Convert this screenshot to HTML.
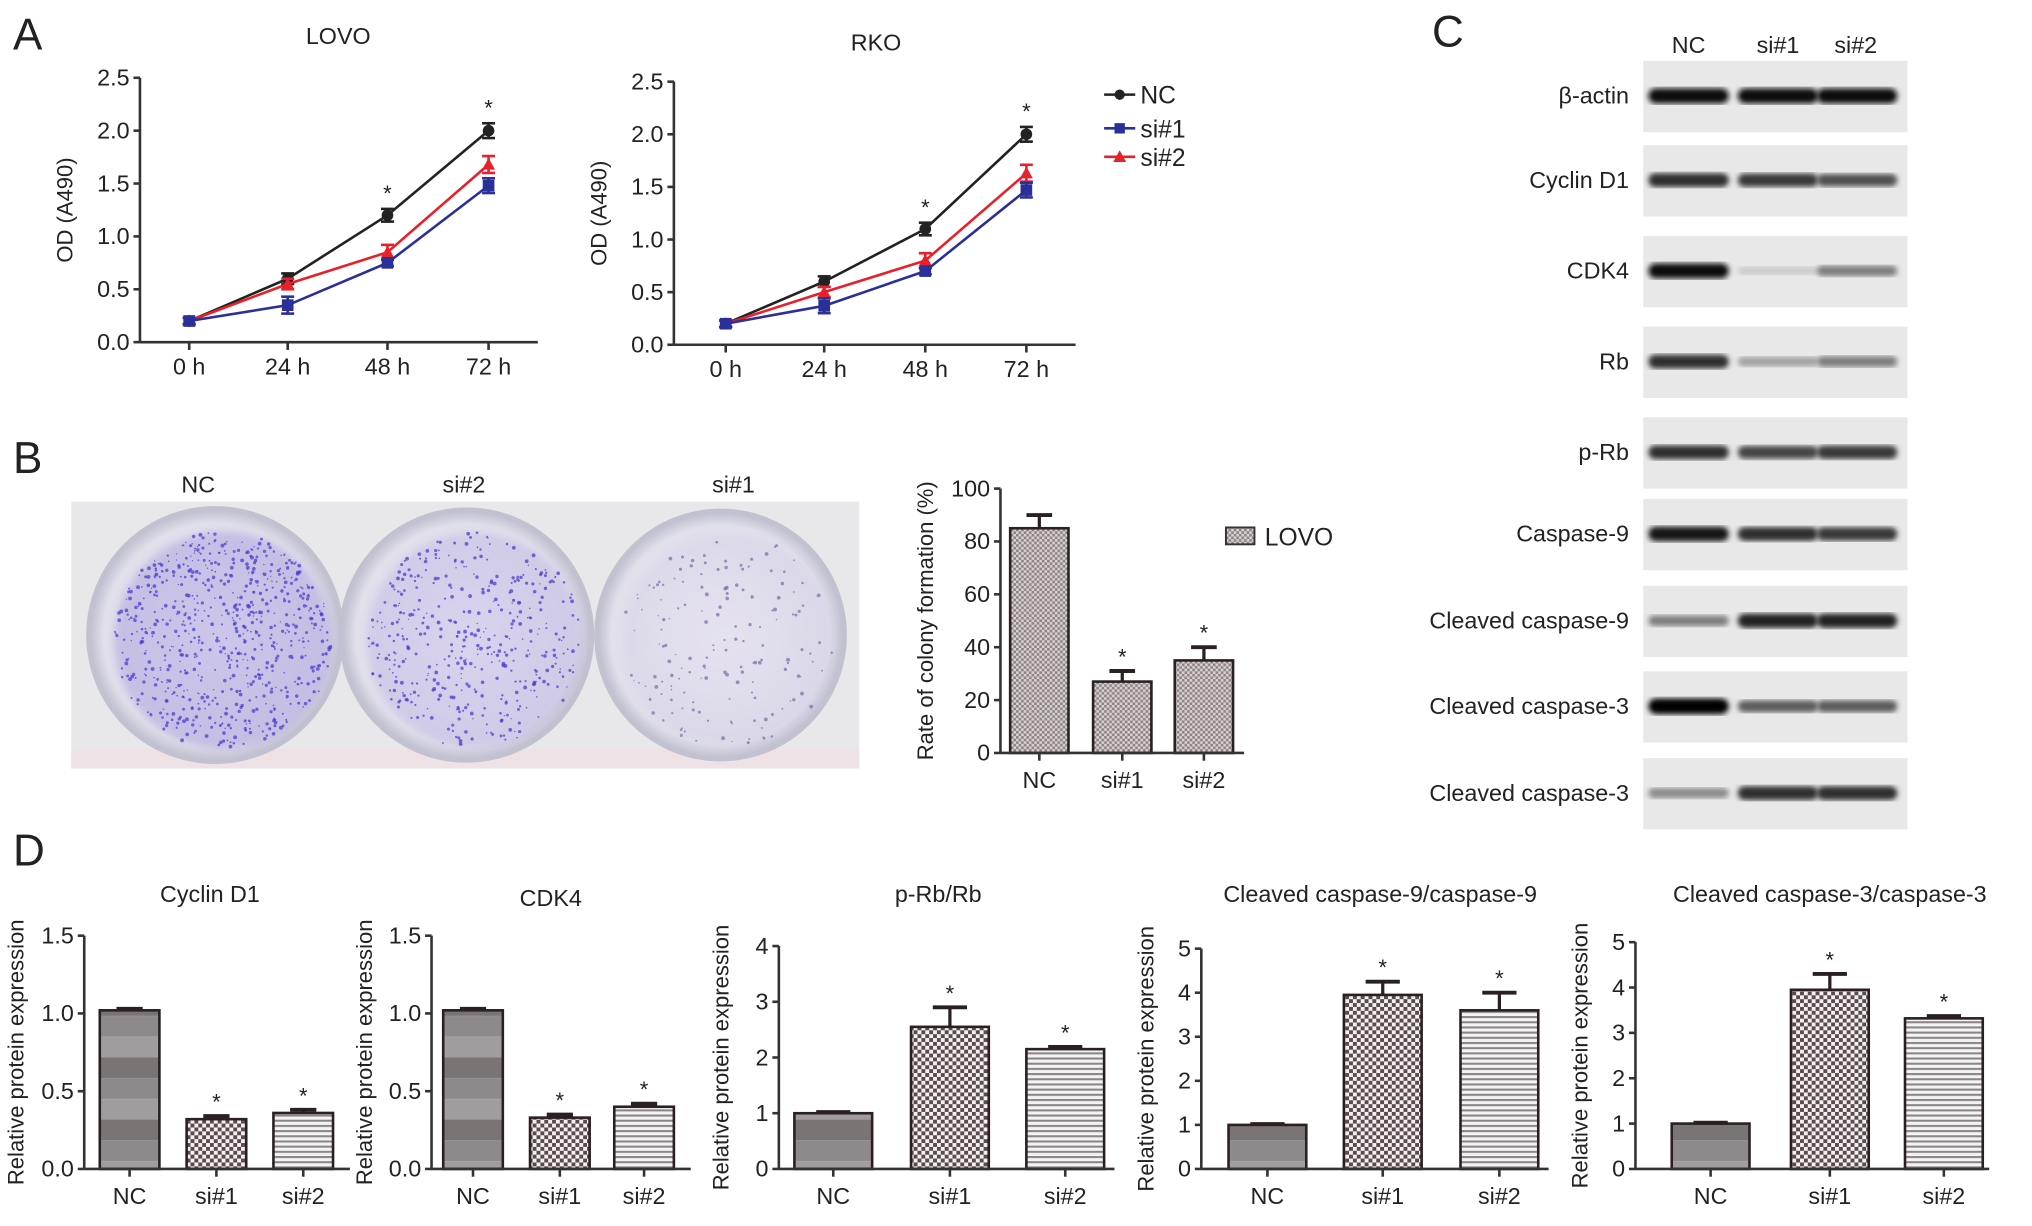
<!DOCTYPE html>
<html><head><meta charset="utf-8">
<style>
html,body{margin:0;padding:0;background:#fff;}
svg{display:block;}
text{font-family:"Liberation Sans Narrow","Liberation Sans",sans-serif;fill:#222;}
.wide{font-family:"Liberation Sans",sans-serif;}
</style></head>
<body>
<svg id="fig" width="2032" height="1226" viewBox="0 0 1568 946" xmlns="http://www.w3.org/2000/svg">
<defs>
<pattern id="pNC" width="40" height="48" patternUnits="userSpaceOnUse">
<rect width="40" height="16" fill="#7b7474"/><rect y="16" width="40" height="16" fill="#8e8a8b"/><rect y="32" width="40" height="16" fill="#a19d9e"/>
</pattern>
<pattern id="pS1" width="6" height="6" patternUnits="userSpaceOnUse">
<rect width="6" height="6" fill="#f2f0f0"/><rect width="3" height="3" fill="#5a4c4e"/><rect x="3" y="3" width="3" height="3" fill="#5a4c4e"/>
</pattern>
<pattern id="pS2" width="6" height="4" patternUnits="userSpaceOnUse">
<rect width="6" height="4" fill="#f4f4f4"/><rect y="0" width="6" height="1.6" fill="#8a8688"/>
</pattern>
<pattern id="pB" width="4" height="4" patternUnits="userSpaceOnUse">
<rect width="4" height="4" fill="#d8d2d2"/><rect width="2" height="2" fill="#8d8385"/><rect x="2" y="2" width="2" height="2" fill="#8d8385"/>
</pattern>
<radialGradient id="well" cx="50%" cy="50%" r="50%">
<stop offset="0" stop-color="#eceaf2"/><stop offset="0.88" stop-color="#e0dfea"/><stop offset="1" stop-color="#bdbccd"/>
</radialGradient>
<filter id="blur"><feGaussianBlur stdDeviation="3"/></filter>
<filter id="blur2"><feGaussianBlur stdDeviation="2"/></filter>
</defs>
<g id="root"></g>
</svg>
<script>
// ---------- DATA ----------
var timeLabels = ["0 h","24 h","48 h","72 h"];
var lovoNC = [0.2,0.6,1.2,2.0];
var lovoSi1 = [0.2,0.35,0.75,1.48];
var lovoSi2 = [0.2,0.55,0.85,1.68];
var lovoNCerr = [0.03,0.05,0.06,0.07];
var lovoSi1err = [0.03,0.08,0.03,0.07];
var lovoSi2err = [0.03,0.05,0.07,0.08];
var rkoNC = [0.2,0.6,1.1,2.0];
var rkoSi1 = [0.2,0.37,0.7,1.47];
var rkoSi2 = [0.2,0.5,0.8,1.63];
var rkoNCerr = [0.03,0.05,0.06,0.07];
var rkoSi1err = [0.03,0.07,0.03,0.07];
var rkoSi2err = [0.03,0.05,0.07,0.08];
var odTicks = ["0.0","0.5","1.0","1.5","2.0","2.5"];
var groups = ["NC","si#1","si#2"];
var colonyVals = [85,27,35];
var colonyErr = [5,4,5];
var colonyTicks = [0,20,40,60,80,100];
var cyclinVals = [1.02,0.32,0.36];
var cyclinErr = [0.01,0.02,0.02];
var cdk4Vals = [1.02,0.33,0.40];
var cdk4Err = [0.01,0.02,0.02];
var prbVals = [1.0,2.55,2.15];
var prbErr = [0.02,0.35,0.04];
var casp9Vals = [1.0,3.95,3.6];
var casp9Err = [0.02,0.3,0.4];
var casp3Vals = [1.0,3.95,3.32];
var casp3Err = [0.02,0.35,0.05];
var blotNames = ["β-actin","Cyclin D1","CDK4","Rb","p-Rb","Caspase-9","Cleaved caspase-9","Cleaved caspase-3","Cleaved caspase-3"];
var blotIntensity = [[0.95,0.95,0.95],[0.8,0.75,0.65],[0.95,0.12,0.45],[0.8,0.3,0.45],[0.8,0.7,0.75],[0.9,0.8,0.75],[0.45,0.85,0.85],[1.0,0.6,0.6],[0.4,0.8,0.8]];

// ---------- HELPERS ----------
var NS="http://www.w3.org/2000/svg";
var root=document.getElementById('root');
function mk(tag,attrs,parent){var e=document.createElementNS(NS,tag);for(var k in attrs)e.setAttribute(k,attrs[k]);(parent||root).appendChild(e);return e;}
function txt(s,x,y,size,anchor,parent,extra){var t=mk('text',{x:x,y:y,'font-size':size,'text-anchor':anchor||'middle'},parent);if(extra)for(var k in extra)t.setAttribute(k,extra[k]);t.textContent=s;return t;}

[["A",10,38],["B",10,365],["C",1105,36],["D",10,668]].forEach(function(p){
  var t=txt(p[0],p[1],p[2],34,'start',root,{'class':'wide'});
  
  
});

// ---------- LINE CHARTS ----------
function lineChart(name,title,ax,y0,yTop,xs,xEnd,titleX,titleY,series){
  var g=mk('g',{});
  
  
  function Y(v){return y0-(v/2.5)*(y0-yTop);}
  var tt=txt(title,titleX,titleY,18,'middle',g);
  
  
  var ya=mk('line',{x1:ax,y1:Y(0),x2:ax,y2:Y(2.5),stroke:'#333','stroke-width':2},g);
  
  
  var xa=mk('line',{x1:ax,y1:y0,x2:xEnd,y2:y0,stroke:'#333','stroke-width':2},g);
  
  
  odTicks.forEach(function(s){var v=parseFloat(s);
    mk('line',{x1:ax-5,y1:Y(v),x2:ax,y2:Y(v),stroke:'#333','stroke-width':2},g);
    var t=txt(s,ax-8,Y(v)+6,18,'end',g);
    
    
  });
  timeLabels.forEach(function(s,i){
    mk('line',{x1:xs[i],y1:y0,x2:xs[i],y2:y0+6,stroke:'#333','stroke-width':2},g);
    var t=txt(s,xs[i],y0+25,18,'middle',g);
    
    
  });
  var yl=txt("OD (A490)",ax-52,(y0+yTop)/2,17,'middle',g,{'class':'wide',transform:'rotate(-90 '+(ax-52)+' '+((y0+yTop)/2)+')'});
  
  
  series.forEach(function(s){
    var pts=s.vals.map(function(v,i){return xs[i]+','+Y(v);}).join(' ');
    var pl=mk('polyline',{points:pts,fill:'none',stroke:s.color,'stroke-width':2},g);
    
    
    s.vals.forEach(function(v,i){
      var e=s.err[i];
      mk('line',{x1:xs[i],y1:Y(v+e),x2:xs[i],y2:Y(v-e),stroke:s.color,'stroke-width':2},g);
      mk('line',{x1:xs[i]-5,y1:Y(v+e),x2:xs[i]+5,y2:Y(v+e),stroke:s.color,'stroke-width':2},g);
      mk('line',{x1:xs[i]-5,y1:Y(v-e),x2:xs[i]+5,y2:Y(v-e),stroke:s.color,'stroke-width':2},g);
      var m;
      if(s.key==='nc') m=mk('circle',{cx:xs[i],cy:Y(v),r:4.5,fill:s.color},g);
      else if(s.key==='si1') m=mk('rect',{x:xs[i]-4.5,y:Y(v)-4.5,width:9,height:9,fill:s.color},g);
      else m=mk('polygon',{points:(xs[i]-5)+','+(Y(v)+4)+' '+(xs[i]+5)+','+(Y(v)+4)+' '+xs[i]+','+(Y(v)-5),fill:s.color},g);
      
      
    });
  });
  [2,3].forEach(function(i){
    var top=Y(series[0].vals[i]+series[0].err[i]);
    var a=txt('*',xs[i],top-6,17,'middle',g);
    
    
  });
}
lineChart('lovo','LOVO',108,264,60,[146,222,299,377],415,261,34,[
 {key:'nc',color:'#222',vals:lovoNC,err:lovoNCerr},
 {key:'si2',color:'#e8202a',vals:lovoSi2,err:lovoSi2err},
 {key:'si1',color:'#2b2f9a',vals:lovoSi1,err:lovoSi1err}]);
lineChart('rko','RKO',520,266,63,[560,636,714,792],830,676,39,[
 {key:'nc',color:'#222',vals:rkoNC,err:rkoNCerr},
 {key:'si2',color:'#e8202a',vals:rkoSi2,err:rkoSi2err},
 {key:'si1',color:'#2b2f9a',vals:rkoSi1,err:rkoSi1err}]);

var lg=mk('g',{});


[["NC","#222",73,'c'],["si#1","#2b2f9a",99,'s'],["si#2","#e8202a",121,'t']].forEach(function(r){
  var e=mk('g',{},lg);
  
  
  mk('line',{x1:852,y1:r[2],x2:876,y2:r[2],stroke:r[1],'stroke-width':2},e);
  if(r[3]==='c')mk('circle',{cx:864,cy:r[2],r:4,fill:r[1]},e);
  else if(r[3]==='s')mk('rect',{x:860,y:r[2]-4,width:8,height:8,fill:r[1]},e);
  else mk('polygon',{points:'859,'+(r[2]+4)+' 869,'+(r[2]+4)+' 864,'+(r[2]-5),fill:r[1]},e);
  txt(r[0],880,r[2]+7,19,'start',e);
});

// ---------- COLONY PHOTO ----------
var ph=mk('g',{});


mk('rect',{x:55,y:387,width:608,height:206,fill:'#e8e7ea'},ph);
mk('rect',{x:55,y:578,width:608,height:15,fill:'#eee2e6'},ph);
var wells=[[166,490,98,0.9],[360,490,97,0.55],[556,490,96,0.2]];
var seed=7;function rnd(){seed=(seed*16807)%2147483647;return seed/2147483647;}
wells.forEach(function(w,wi){
  var c=mk('circle',{cx:w[0],cy:w[1],r:w[2],fill:'url(#well)',stroke:'#c2c1cf','stroke-width':3},ph);
  
  
  mk('circle',{cx:w[0]+6,cy:w[1]+4,r:w[2]-14,fill:'rgba(120,100,210,'+(w[3]*0.3)+')',filter:'url(#blur)'},ph);
  var n=Math.round(800*w[3]);
  for(var i=0;i<n;i++){var a=rnd()*6.283,r=Math.sqrt(rnd())*(w[2]-14);
    mk('circle',{cx:w[0]+6+r*Math.cos(a),cy:w[1]+4+r*Math.sin(a),r:0.5+rnd()*1.0,fill:wi===2?'#7a74a8':'#4b3fd0','opacity':0.75},ph);}
});
[["NC",153],["si#2",358],["si#1",566]].forEach(function(l){
  var t=txt(l[0],l[1],380,18,'middle');
  
  
});

// ---------- BAR CHART helper ----------
function barChart(name,ax,y0,yTop,maxV,ticks,tickFmt,centers,bw,vals,errs,fills,xEnd,ytitle,ytx,title,titleX,titleY,stars){
  var g=mk('g',{});
  
  
  function Y(v){return y0-(v/maxV)*(y0-yTop);}
  if(title){var tt=txt(title,titleX,titleY,18,'middle',g);
    
    }
  vals.forEach(function(v,i){
    var b=mk('rect',{x:centers[i]-bw/2,y:Y(v),width:bw,height:y0-Y(v),fill:fills[i],stroke:'#2a2022','stroke-width':2},g);
    
    
    var e=errs[i];
    mk('line',{x1:centers[i],y1:Y(v),x2:centers[i],y2:Y(v+e),stroke:'#2a2022','stroke-width':2.5},g);
    mk('line',{x1:centers[i]-bw*0.22,y1:Y(v+e),x2:centers[i]+bw*0.22,y2:Y(v+e),stroke:'#2a2022','stroke-width':3},g);
    if(stars&&i>0){var s=txt('*',centers[i],Y(v+e)-5,17,'middle',g);
      
      }
    mk('line',{x1:centers[i],y1:y0,x2:centers[i],y2:y0+6,stroke:'#333','stroke-width':2},g);
    var xl=txt(groups[i],centers[i],y0+27,18,'middle',g);
    
    
  });
  var ya=mk('line',{x1:ax,y1:y0,x2:ax,y2:yTop,stroke:'#333','stroke-width':2},g);
  
  
  var xa=mk('line',{x1:ax,y1:y0,x2:xEnd,y2:y0,stroke:'#333','stroke-width':2},g);
  
  
  ticks.forEach(function(v){
    mk('line',{x1:ax-5,y1:Y(v),x2:ax,y2:Y(v),stroke:'#333','stroke-width':2},g);
    var t=txt(tickFmt(v),ax-8,Y(v)+6,18,'end',g);
    
    
  });
  var yc=(y0+yTop)/2;
  var yl=txt(ytitle,ytx,yc,17,'middle',g,{'class':'wide',transform:'rotate(-90 '+ytx+' '+yc+')'});
  
  
}
var f0=function(v){return String(v);}, f1=function(v){return v.toFixed(1);};
barChart('colony',772,581,377,100,colonyTicks,f0,[802,866,929],45,colonyVals,colonyErr,['url(#pB)','url(#pB)','url(#pB)'],960,'Rate of colony formation (%)',720,null,0,0,true);
var lb=mk('g',{});


mk('rect',{x:946,y:407,width:22,height:13,fill:'url(#pB)',stroke:'#333','stroke-width':1.5},lb);
txt('LOVO',976,421,19,'start',lb);

var fillsD=['url(#pNC)','url(#pS1)','url(#pS2)'];
var RPE='Relative protein expression';
barChart('cyclin-d1',65,902,722,1.5,[0,0.5,1.0,1.5],f1,[100,167,234],46,cyclinVals,cyclinErr,fillsD,270,RPE,18,'Cyclin D1',162,696,true);
barChart('cdk4',333,902,722,1.5,[0,0.5,1.0,1.5],f1,[365,432,497],46,cdk4Vals,cdk4Err,fillsD,533,RPE,287,'CDK4',425,699,true);
barChart('prb-rb',601,902,730,4,[0,1,2,3,4],f0,[643,733,822],60,prbVals,prbErr,fillsD,860,RPE,562,'p-Rb/Rb',724,696,true);
barChart('casp9',927,902,732,5,[0,1,2,3,4,5],f0,[978,1067,1157],60,casp9Vals,casp9Err,fillsD,1195,RPE,890,'Cleaved caspase-9/caspase-9',1065,696,true);
barChart('casp3',1262,902,727,5,[0,1,2,3,4,5],f0,[1320,1412,1500],60,casp3Vals,casp3Err,fillsD,1535,RPE,1225,'Cleaved caspase-3/caspase-3',1412,696,true);

// ---------- WESTERN BLOTS ----------
var blotTops=[47,112,182,252,322,385,452,518,585];
var lanes=[1303,1372,1433];
[["NC",1303],["si#1",1372],["si#2",1432]].forEach(function(h){
  var t=txt(h[0],h[1],41,18,'middle');
  
  
});
blotNames.forEach(function(n,ri){
  var g=mk('g',{});
  
  
  var top=blotTops[ri];
  mk('rect',{x:1268,y:top,width:204,height:55,fill:'#e8e8e8'},g);
  blotIntensity[ri].forEach(function(v,li){
    var shade=Math.round(228-228*v);
    var h=5+7*v;
    var band=mk('rect',{x:lanes[li]-31,y:top+27-h/2,width:62,height:h,rx:h/2,fill:'rgb('+shade+','+shade+','+shade+')',filter:'url(#blur2)'},g);
    
    
  });
  var t=txt(n,1257,top+33,18,'end',g);
  
  
});
</script>
</body></html>
